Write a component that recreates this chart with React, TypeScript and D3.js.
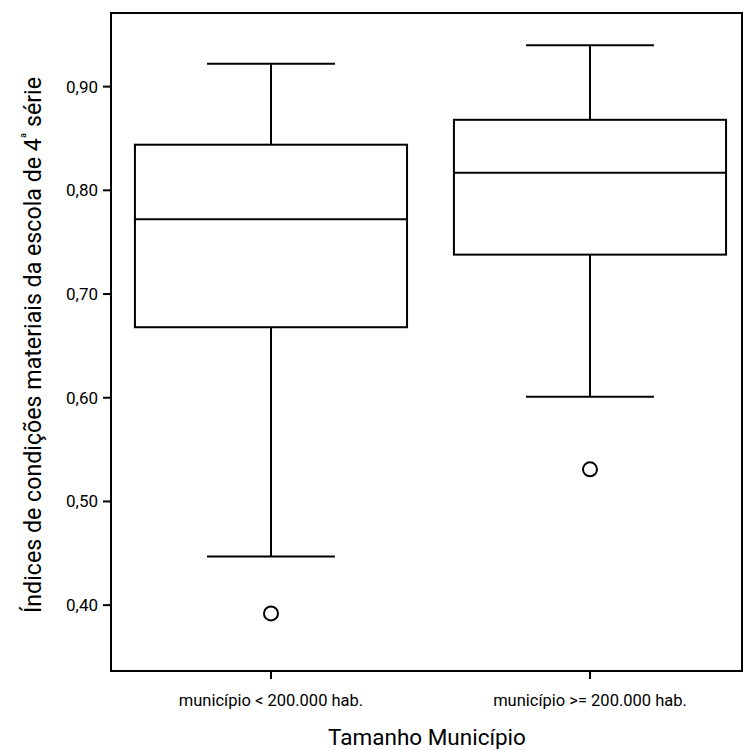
import React from 'react';
import * as d3 from 'd3';

// categorias e estatísticas
const categories = ['município < 200.000 hab.', 'município >= 200.000 hab.'];
const whiskerLow = [0.447, 0.601];
const q1 = [0.668, 0.738];
const median = [0.772, 0.817];
const q3 = [0.844, 0.868];
const whiskerHigh = [0.922, 0.94];
const outliers = [[0.392], [0.531]];
const yTicks = [0.4, 0.5, 0.6, 0.7, 0.8, 0.9];

const W = 747, H = 749;
const left = 111, right = 742, top = 13, bottom = 671;
const font = 'Roboto, "Noto Sans", sans-serif';

export default function App() {
  const y = d3.scaleLinear().domain([0.3365, 0.971]).range([bottom, top]);
  const x = d3.scaleBand().domain(categories).range([left, right])
    .paddingInner(0.147).paddingOuter(0.0625).align(0.6);
  const fmt = (v: number) => d3.format('.2f')(v).replace('.', ',');
  const bw = x.bandwidth();

  return (
    <svg width={W} height={H} style={{ display: 'block', position: 'absolute', left: 0, top: 0 }}>
      <rect x={0} y={0} width={W} height={H} fill="#fff" />
      {/* moldura */}
      <rect x={left} y={top} width={right - left} height={bottom - top} fill="none" stroke="#000" strokeWidth={2} />
      {/* eixo y */}
      {yTicks.map(t => (
        <g key={t}>
          <line x1={left - 8} x2={left} y1={y(t)} y2={y(t)} stroke="#000" strokeWidth={2} />
          <text x={left - 13} y={y(t)} dy="0.35em" textAnchor="end" fontFamily={font} fontSize={17}>{fmt(t)}</text>
        </g>
      ))}
      {/* eixo x */}
      {categories.map(c => {
        const cx = x(c)! + bw / 2;
        return (
          <g key={c}>
            <line x1={cx} x2={cx} y1={bottom} y2={bottom + 8} stroke="#000" strokeWidth={2} />
            <text x={cx} y={706} textAnchor="middle" fontFamily={font} fontSize={16.5}>{c}</text>
          </g>
        );
      })}
      {/* caixas */}
      {categories.map((c, i) => {
        const x0 = x(c)!;
        const cx = x0 + bw / 2;
        const capW = bw * 0.47;
        return (
          <g key={c} stroke="#000" strokeWidth={2} fill="none">
            <line x1={cx} x2={cx} y1={y(whiskerHigh[i])} y2={y(q3[i])} />
            <line x1={cx} x2={cx} y1={y(q1[i])} y2={y(whiskerLow[i])} />
            <line x1={cx - capW / 2} x2={cx + capW / 2} y1={y(whiskerHigh[i])} y2={y(whiskerHigh[i])} />
            <line x1={cx - capW / 2} x2={cx + capW / 2} y1={y(whiskerLow[i])} y2={y(whiskerLow[i])} />
            <rect x={x0} y={y(q3[i])} width={bw} height={y(q1[i]) - y(q3[i])} fill="#fff" />
            <line x1={x0} x2={x0 + bw} y1={y(median[i])} y2={y(median[i])} />
            {outliers[i].map((o, j) => (
              <circle key={j} cx={cx} cy={y(o)} r={7} fill="#fff" />
            ))}
          </g>
        );
      })}
      {/* títulos */}
      <text x={427} y={745} textAnchor="middle" fontFamily={font} fontSize={22.5}>Tamanho Município</text>
      <text transform={`translate(41,345) rotate(-90)`} textAnchor="middle" fontFamily={font} fontSize={23.2}>
        Índices de condições materiais da escola de 4<tspan fontSize={12} dy={-11}>ª</tspan><tspan dy={11}> série</tspan>
      </text>
    </svg>
  );
}
